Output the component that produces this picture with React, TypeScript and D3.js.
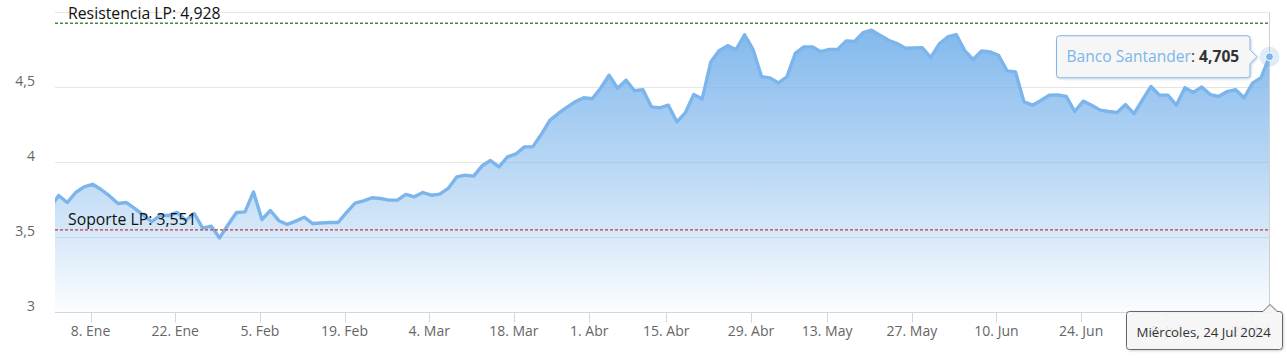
import React from "react";
import * as d3 from "d3";

// Banco Santander daily closes (trading days from 29 Dec 2023 to 24 Jul 2024)
const closes: number[] = [
  3.70, 3.78, 3.733, 3.80, 3.837, 3.855, 3.82, 3.777, 3.727, 3.733,
  3.693, 3.649, 3.605, 3.649, 3.647, 3.667, 3.615, 3.66, 3.562, 3.576,
  3.497, 3.585, 3.667, 3.671, 3.804, 3.62, 3.68, 3.612, 3.587, 3.609,
  3.635, 3.593, 3.597, 3.60, 3.60, 3.667, 3.729, 3.744, 3.765, 3.76,
  3.749, 3.749, 3.787, 3.771, 3.80, 3.782, 3.789, 3.827, 3.904, 3.916,
  3.909, 3.978, 4.013, 3.971, 4.037, 4.057, 4.104, 4.106, 4.188, 4.281,
  4.327, 4.368, 4.405, 4.432, 4.425, 4.495, 4.582, 4.495, 4.549, 4.478,
  4.485, 4.371, 4.364, 4.382, 4.271, 4.331, 4.454, 4.424, 4.668, 4.746,
  4.779, 4.752, 4.851, 4.755, 4.573, 4.564, 4.531, 4.571, 4.727, 4.771,
  4.771, 4.739, 4.754, 4.754, 4.811, 4.807, 4.866, 4.882, 4.849, 4.815,
  4.793, 4.762, 4.764, 4.765, 4.70, 4.791, 4.837, 4.853, 4.746, 4.687,
  4.744, 4.737, 4.715, 4.611, 4.604, 4.404, 4.382, 4.413, 4.449, 4.451,
  4.44, 4.34, 4.409, 4.382, 4.349, 4.34, 4.333, 4.386, 4.325, 4.418,
  4.507, 4.449, 4.449, 4.382, 4.499, 4.467, 4.504, 4.453, 4.44, 4.473,
  4.485, 4.431, 4.529, 4.566, 4.705,
];

const firstDay = "2023-12-29";
const lastDay = "2024-07-24";
const holidays = ["2024-01-01", "2024-03-29", "2024-04-01", "2024-05-01"];

const tickDates = [
  "2024-01-08", "2024-01-22", "2024-02-05", "2024-02-19", "2024-03-04",
  "2024-03-18", "2024-04-01", "2024-04-15", "2024-04-29", "2024-05-13",
  "2024-05-27", "2024-06-10", "2024-06-24", "2024-07-08", "2024-07-22",
];
const tickLabels = [
  "8. Ene", "22. Ene", "5. Feb", "19. Feb", "4. Mar",
  "18. Mar", "1. Abr", "15. Abr", "29. Abr", "13. May",
  "27. May", "10. Jun", "24. Jun", "8. Jul", "22. Jul",
];

const yTicks = [3, 3.5, 4, 4.5, 5];
const yLabels = ["3", "3,5", "4", "4,5", ""];

const resistance = 4.928;
const resistanceLabel = "Resistencia LP: 4,928";
const support = 3.551;
const supportLabel = "Soporte LP: 3,551";

const seriesName = "Banco Santander";
const lastValueLabel = "4,705";
const lastDateLabel = "Miércoles, 24 Jul 2024";

const W = 1287;
const H = 360;
const plotLeft = 55;
const plotRight = 1269.5;
const plotTop = 12.5;
const plotBottom = 312.5;
const BLUE = "#7cb5ec";
const FONT = "'Open Sans', 'Noto Sans', sans-serif";

const parse = d3.utcParse("%Y-%m-%d");
const CLOSE_MS = 17.5 * 3600 * 1000;

function tradingDays(): Date[] {
  const hol = new Set(holidays);
  const fmt = d3.utcFormat("%Y-%m-%d");
  const start = parse(firstDay) as Date;
  const end = d3.utcDay.offset(parse(lastDay) as Date, 1);
  return d3.utcDay
    .range(start, end)
    .filter((d) => d.getUTCDay() !== 0 && d.getUTCDay() !== 6 && !hol.has(fmt(d)));
}

export default function App() {
  const days = tradingDays();
  const times = days.map((d) => d.getTime() + CLOSE_MS);
  const n = Math.min(days.length, closes.length);

  // ordinal position of a calendar instant
  const ordinal = (t: number) => {
    const k = d3.bisectRight(times, t) - 1;
    if (k < 0) return 0;
    if (k >= times.length - 1) return times.length - 1;
    return k + (t - times[k]) / (times[k + 1] - times[k]);
  };

  const x = d3.scaleLinear().domain([0.56, n - 1]).range([plotLeft, plotRight]);
  const y = d3.scaleLinear().domain([3, 5]).range([plotBottom, plotTop]);

  const idx = d3.range(n);
  const line = d3
    .line<number>()
    .x((i) => x(i))
    .y((i) => y(closes[i]));
  const area = d3
    .area<number>()
    .x((i) => x(i))
    .y0(plotBottom)
    .y1((i) => y(closes[i]));

  const lastX = x(n - 1);
  const lastY = y(closes[n - 1]);

  // series tooltip geometry
  const tipR = lastX - 19.5;
  const tipL = tipR - 193.5;
  const tipT = lastY - 21;
  const tipB = lastY + 21;
  const r = 3;
  const tipPath = `M ${tipL + r} ${tipT} L ${tipR - r} ${tipT} Q ${tipR} ${tipT} ${tipR} ${tipT + r}
    L ${tipR} ${lastY - 7} L ${tipR + 7} ${lastY} L ${tipR} ${lastY + 7}
    L ${tipR} ${tipB - r} Q ${tipR} ${tipB} ${tipR - r} ${tipB}
    L ${tipL + r} ${tipB} Q ${tipL} ${tipB} ${tipL} ${tipB - r}
    L ${tipL} ${tipT + r} Q ${tipL} ${tipT} ${tipL + r} ${tipT} Z`;

  // date label geometry
  const dL = 1126.5;
  const dR = 1282.5;
  const dT = 311.5;
  const dB = 349.5;
  const ax = Math.round(lastX);
  const datePath = `M ${dL + r} ${dT} L ${ax - 7} ${dT} L ${ax} ${dT - 7} L ${ax + 7} ${dT}
    L ${dR - r} ${dT} Q ${dR} ${dT} ${dR} ${dT + r} L ${dR} ${dB - r} Q ${dR} ${dB} ${dR - r} ${dB}
    L ${dL + r} ${dB} Q ${dL} ${dB} ${dL} ${dB - r} L ${dL} ${dT + r} Q ${dL} ${dT} ${dL + r} ${dT} Z`;

  const ticks = tickDates.map((s, i) => ({
    pos: x(ordinal((parse(s) as Date).getTime())),
    label: tickLabels[i],
  }));

  return (
    <div style={{ position: "fixed", left: 0, top: 0, width: W, height: H, background: "#fff" }}>
      <svg width={W} height={H} style={{ display: "block", fontFamily: FONT }}>
        <defs>
          <linearGradient id="areaGrad" gradientUnits="userSpaceOnUse" x1="0" y1={plotTop} x2="0" y2={plotBottom}>
            <stop offset="0" stopColor={BLUE} stopOpacity={1} />
            <stop offset="0.55" stopColor={BLUE} stopOpacity={0.5} />
            <stop offset="1" stopColor={BLUE} stopOpacity={0.03} />
          </linearGradient>
          <clipPath id="plotClip">
            <rect x={plotLeft} y={0} width={plotRight - plotLeft + 1} height={plotBottom} />
          </clipPath>
          <filter id="shadow" x="-10%" y="-20%" width="130%" height="160%">
            <feDropShadow dx="1" dy="1" stdDeviation="1.2" floodColor="#000" floodOpacity="0.18" />
          </filter>
        </defs>

        {/* grid */}
        {yTicks.map((v) => (
          <line key={v} x1={plotLeft} x2={plotRight} y1={y(v)} y2={y(v)} stroke="#e6e6e6" strokeWidth={1} />
        ))}

        {/* area + line */}
        <g clipPath="url(#plotClip)">
          <path d={area(idx) || ""} fill="url(#areaGrad)" />
          <path d={line(idx) || ""} fill="none" stroke={BLUE} strokeWidth={3.4} strokeLinejoin="round" />
        </g>

        {/* crosshair */}
        <line x1={plotRight} x2={plotRight} y1={plotTop} y2={plotBottom} stroke="#cfcfcf" strokeWidth={1} />

        {/* plot lines */}
        <line x1={plotLeft} x2={plotRight} y1={y(resistance)} y2={y(resistance)} stroke="#3d8b3d" strokeWidth={1.4} strokeDasharray="3,2" />
        <text x={68} y={y(resistance) - 4.5} fontSize={15.8} fill="#111">{resistanceLabel}</text>
        <line x1={plotLeft} x2={plotRight} y1={y(support)} y2={y(support)} stroke="#c0393b" strokeWidth={1.4} strokeDasharray="3,2" />
        <text x={68} y={y(support) - 4.5} fontSize={15.8} fill="#111">{supportLabel}</text>

        {/* y labels */}
        {yTicks.map((v, i) => (
          <text key={v} x={35} y={y(v) - 2} textAnchor="end" fontSize={14} fill="#666">{yLabels[i]}</text>
        ))}

        {/* x axis */}
        <line x1={plotLeft} x2={plotRight + 1} y1={plotBottom} y2={plotBottom} stroke="#ccd6eb" strokeWidth={1} />
        {ticks.map((t) => (
          <g key={t.label}>
            <line x1={Math.round(t.pos) + 0.5} x2={Math.round(t.pos) + 0.5} y1={plotBottom} y2={plotBottom + 10} stroke="#ccd6eb" strokeWidth={1} />
            <text x={t.pos} y={336} textAnchor="middle" fontSize={14} fill="#666">{t.label}</text>
          </g>
        ))}

        {/* hover marker */}
        <circle cx={lastX} cy={lastY} r={10} fill={BLUE} fillOpacity={0.25} />
        <circle cx={lastX} cy={lastY} r={4} fill={BLUE} stroke="#fff" strokeWidth={1} />

        {/* series tooltip */}
        <path d={tipPath} fill="#f7f7f7" fillOpacity={0.9} stroke={BLUE} strokeWidth={1} filter="url(#shadow)" />
        <text x={tipL + 10} y={lastY + 5} fontSize={15.6}>
          <tspan fill={BLUE}>{seriesName}</tspan>
          <tspan fill="#333">: </tspan>
          <tspan fill="#333" fontWeight="bold">{lastValueLabel}</tspan>
        </text>

        {/* date label */}
        <path d={datePath} fill="#f7f7f7" fillOpacity={0.88} stroke="#666" strokeWidth={1} filter="url(#shadow)" />
        <text x={dL + 10} y={337} fontSize={13.3} fill="#333">{lastDateLabel}</text>
      </svg>
    </div>
  );
}
